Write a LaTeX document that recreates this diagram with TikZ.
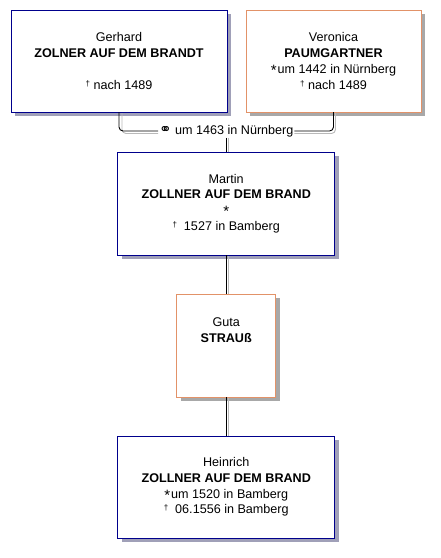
\documentclass[tikz,border=0pt]{standalone}
\usepackage{fontspec}
\setmainfont{Liberation Sans}
\newfontfamily\symfont{DejaVu Sans}
\usetikzlibrary{positioning, calc, backgrounds}

\definecolor{maleblue}{RGB}{0,0,140}
\definecolor{femaleorange}{RGB}{226,146,104}
\definecolor{maleshadow}{RGB}{160,160,184}
\definecolor{femaleshadow}{RGB}{168,168,168}

\newcommand{\born}{\raisebox{-0.3ex}{\fontsize{15}{15}\selectfont *}\hspace{1pt}}
\newcommand{\died}{\raisebox{0.45ex}{\fontsize{8}{8}\selectfont †}}
\newcommand{\married}{{\symfont\fontsize{15}{15}\selectfont ⚭}}

\begin{document}
\begin{tikzpicture}[
    x=1pt, y=-1pt,
    person/.style={rectangle, draw, line width=1pt, fill=white, minimum height=102pt, align=center, inner sep=0pt, outer sep=0pt, font=\fontsize{12.6}{15.7}\selectfont},
    male/.style={person, draw=maleblue},
    female/.style={person, draw=femaleorange},
    connector/.style={line width=0.9pt},
    connshadow/.style={line width=0.9pt, draw=gray!55},
    marrlabel/.style={inner sep=1pt, outer sep=0pt, font=\fontsize{12.6}{14}\selectfont}
]
\useasboundingbox (0,0) rectangle (441,558);

% parents
\node[male, minimum width=216pt] (gerhard) at (119,61) {Gerhard\\\textbf{ZOLNER AUF DEM BRANDT}\\\mbox{}\\\died{} nach 1489};
\node[female, minimum width=175pt, right=19pt of gerhard] (veronica) {Veronica\\\textbf{PAUMGARTNER}\\\born{}um 1442 in Nürnberg\\\died{} nach 1489};

\coordinate (mid) at ($(gerhard.south)!0.5!(veronica.south)$);
\node[marrlabel] (marriage) at ($(mid)+(0,19)$) {\married{} um 1463 in Nürnberg};

% descendants
\node[male, minimum width=217pt, minimum height=103pt, below=40pt of mid] (martin) {Martin\\\textbf{ZOLLNER AUF DEM BRAND}\\\born\\\died{}\ \ 1527 in Bamberg};
\node[female, minimum width=99pt, minimum height=103pt, below=39pt of martin] (guta) {Guta\\\textbf{STRAUß}\\\mbox{}\\\mbox{}};
\node[male, minimum width=217pt, below=39pt of guta] (heinrich) {Heinrich\\\textbf{ZOLLNER AUF DEM BRAND}\\\born{}um 1520 in Bamberg\\\died{}\ \ 06.1556 in Bamberg};

\draw[connector, rounded corners=4pt] (gerhard.south) |- (marriage.west);
\draw[connector, rounded corners=4pt] (veronica.south) |- (marriage.east);
\draw[connector] (marriage) -- (martin);
\draw[connector] (martin) -- (guta);
\draw[connector] (guta) -- (heinrich);

% Shadows
\begin{scope}[on background layer]
    \fill[maleshadow] ($(gerhard.south west)+(4,4)$) rectangle ($(gerhard.north east)+(4,4)$);
    \fill[femaleshadow] ($(veronica.south west)+(4,4)$) rectangle ($(veronica.north east)+(4,4)$);
    \fill[maleshadow] ($(martin.south west)+(4,4)$) rectangle ($(martin.north east)+(4,4)$);
    \fill[femaleshadow] ($(guta.south west)+(4,4)$) rectangle ($(guta.north east)+(4,4)$);
    \fill[maleshadow] ($(heinrich.south west)+(4,4)$) rectangle ($(heinrich.north east)+(4,4)$);
    \draw[connshadow, rounded corners=4pt] ($(gerhard.south)+(3,0)$) |- ($(marriage.west)+(0,2.5)$);
    \draw[connshadow, rounded corners=4pt] ($(veronica.south)+(2,0)$) |- ($(marriage.east)+(0,2.5)$);
    \draw[connshadow] ($(marriage.south)+(2,0)$) -- ($(martin.north)+(2,0)$);
    \draw[connshadow] ($(martin.south)+(2,0)$) -- ($(guta.north)+(2,0)$);
    \draw[connshadow] ($(guta.south)+(2,0)$) -- ($(heinrich.north)+(2,0)$);
\end{scope}

\end{tikzpicture}
\end{document}
